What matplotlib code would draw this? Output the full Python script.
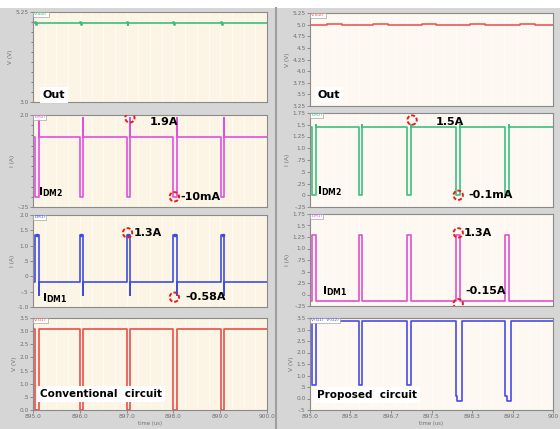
import numpy as np
import matplotlib
matplotlib.use("Agg")
import matplotlib.pyplot as plt

W, H = 560, 429

# ---------------- data ----------------
pulse_times = [895.05, 896.0, 897.0, 898.0, 899.02]

# Conventional circuit
out_left_level = 4.97
idm2_left_base, idm2_left_low, idm2_left_peak = 1.45, -0.01, 1.93
idm1_left_base, idm1_left_high, idm1_left_low = -0.2, 1.35, -0.6
vg_left_high, vg_left_low = 3.1, 0.0

# Proposed circuit
out_right_level = 5.0
idm2_right_base, idm2_right_low, idm2_right_peak = 1.45, 0.0, 1.5
idm1_right_base, idm1_right_high = -0.15, 1.3
vg_right_high = 3.35
vg_right_lows = [0.6, 0.6, 0.6, -0.1, -0.1]

left_xticks = [895.0, 896.0, 897.0, 898.0, 899.0, 900.0]
left_xlabels = ["895.0", "896.0", "897.0", "898.0", "899.0", "900.0"]
right_xticks = [895.0, 895.833, 896.667, 897.5, 898.333, 899.167, 900.0]
right_xlabels = ["895.0", "895.8", "896.7", "897.5", "898.3", "899.2", "900"]


def wave(base, segs_per_pulse):
    """segs_per_pulse: list (one per pulse) of [(duration, value), ...]"""
    t = [895.0]
    v = [base]
    for t0, segs in zip(pulse_times, segs_per_pulse):
        t += [t0]
        v += [base]
        cur = t0
        for d, val in segs:
            t += [cur, cur + d]
            v += [val, val]
            cur += d
        t += [cur]
        v += [base]
    t += [900.0]
    v += [base]
    return np.array(t), np.array(v)


n = len(pulse_times)
# ---------------- figure ----------------
fig = plt.figure(figsize=(W / 100, H / 100), dpi=100)
fig.patch.set_facecolor("#d6d6d6")
fig.add_artist(plt.Rectangle((0, 1 - 8 / H), 1, 8 / H, transform=fig.transFigure,
                             facecolor="white", edgecolor="none"))
fig.add_artist(plt.Line2D([276 / W, 276 / W], [0, 1 - 8 / H], transform=fig.transFigure,
                          color="#a0a0a0", lw=1.5))


def mkax(x0, x1, ytop, ybot, ylim, face):
    ax = fig.add_axes([x0 / W, 1 - ybot / H, (x1 - x0) / W, (ybot - ytop) / H])
    ax.set_facecolor(face)
    ax.set_xlim(895.0, 900.0)
    ax.set_ylim(*ylim)
    for s in ax.spines.values():
        s.set_color("#8a8a8a")
        s.set_linewidth(0.8)
    ax.tick_params(labelsize=4.2, colors="#707070", length=2, width=0.5, pad=1)
    ax.tick_params(axis="x", labelbottom=False, length=0)
    for xv in np.arange(895.25, 900.0, 0.25):
        ax.axvline(xv, color="white", lw=0.6, alpha=0.6, zorder=0)
    return ax


def tab(ax, text, color):
    ax.text(0.005, 0.995, text, transform=ax.transAxes, fontsize=3.2, color=color,
            va="top", ha="left",
            bbox=dict(facecolor="white", edgecolor="#909090", lw=0.4, pad=0.6))


def circ(ax, x, y):
    ax.scatter([x], [y], s=45, facecolors="none", edgecolors="#e02020", linewidths=1.4,
               linestyles=(0, (2.0, 1.0)), zorder=6)


def label(ax, x, y, s, fs=8):
    ax.text(x, y, s, fontsize=fs, fontweight="bold", color="black", va="center", ha="left",
            zorder=8)


LX0, LX1 = 33, 267
RX0, RX1 = 310, 553
lface = "#fcf5e6"
rface = "#fdf8f1"

# ---- left 1: Out
ax = mkax(LX0, LX1, 12, 102, (3.0, 5.25), lface)
t, v = wave(out_left_level, [[(0.02, out_left_level + 0.04), (0.02, out_left_level - 0.04)]] * n)
ax.plot(t, v, color="#3dbd7d", lw=1.2)
ax.set_yticks([3.0, 5.25], ["3.0", "5.25"])
ax.set_yticks(np.arange(3.25, 5.25, 0.25), minor=True)
ax.tick_params(which="minor", length=1.5, color="#707070")
ax.set_ylabel("V (V)", fontsize=4.2, color="#707070", labelpad=2)
ax.text(895.2, 3.17, "Out", fontsize=8, fontweight="bold", va="center",
        bbox=dict(facecolor="white", edgecolor="none", pad=2))
tab(ax, "V(out)", "#3dbd7d")

# ---- left 2: IDM2
ax = mkax(LX0, LX1, 115, 207, (-0.25, 2.0), lface)
t, v = wave(idm2_left_base, [[(0.07, idm2_left_low), (0.0, idm2_left_peak)]] * n)
ax.plot(t, v, color="#e14fe1", lw=1.2)
ax.set_yticks([-0.25, 2.0], ["-.25", "2.0"])
ax.set_yticks(np.arange(0.0, 2.0, 0.25), minor=True)
ax.tick_params(which="minor", length=1.5, color="#707070")
ax.set_ylabel("I (A)", fontsize=4.2, color="#707070", labelpad=2)
circ(ax, 897.07, 1.93)
label(ax, 897.5, 1.82, "1.9A")
circ(ax, 898.02, 0.0)
label(ax, 898.15, 0.0, "-10mA")
ax.text(895.1, 0.12, r"I$_{\mathregular{DM2}}$", fontsize=8, fontweight="bold", va="center")
tab(ax, "I(M2)", "#e14fe1")

# ---- left 3: IDM1
ax = mkax(LX0, LX1, 215, 307, (-1.0, 2.0), lface)
t, v = wave(idm1_left_base, [[(0.07, idm1_left_high), (0.0, idm1_left_low)]] * n)
ax.plot(t, v, color="#3c4ee0", lw=1.2)
ax.plot([p + 0.035 for p in pulse_times], [idm1_left_high] * n, "s", color="#3c4ee0", ms=2)
ax.set_yticks([-1.0, -0.5, 0.0, 0.5, 1.0, 1.5, 2.0], ["-1.0", "-.5", "0", ".5", "1.0", "1.5", "2.0"])
ax.set_ylabel("I (A)", fontsize=4.2, color="#707070", labelpad=2)
circ(ax, 897.02, 1.42)
label(ax, 897.15, 1.42, "1.3A")
circ(ax, 898.02, -0.68)
label(ax, 898.25, -0.66, "-0.58A")
ax.text(895.2, -0.72, r"I$_{\mathregular{DM1}}$", fontsize=8, fontweight="bold", va="center")
tab(ax, "I(M1)", "#3c4ee0")

# ---- left 4: gate voltage
ax = mkax(LX0, LX1, 318, 410, (0.0, 3.5), lface)
t, v = wave(vg_left_high, [[(0.07, vg_left_low)]] * n)
ax.plot(t, v, color="#e8504a", lw=1.2)
ax.set_yticks([0.0, 0.5, 1.0, 1.5, 2.0, 2.5, 3.0, 3.5],
              ["0.0", ".5", "1.0", "1.5", "2.0", "2.5", "3.0", "3.5"])
ax.set_ylabel("V (V)", fontsize=4.2, color="#707070", labelpad=2)
ax.tick_params(axis="x", labelbottom=True, length=2)
ax.set_xticks(left_xticks, left_xlabels)
ax.set_xlabel("time (us)", fontsize=3.8, color="#707070", labelpad=1)
ax.text(895.15, 0.6, "Conventional  circuit", fontsize=7.5, fontweight="bold", va="center",
        bbox=dict(facecolor="white", edgecolor="none", pad=2))
tab(ax, "V(G1)", "#e8504a")

# ---- right 1: Out
ax = mkax(RX0, RX1, 13, 106, (3.25, 5.25), rface)
t, v = wave(out_right_level, [[(0.3, out_right_level - 0.015), (0.3, out_right_level + 0.01)]] * n)
ax.plot(t, v, color="#e85a5a", lw=1.2)
ax.set_yticks(np.arange(3.25, 5.26, 0.25),
              ["3.25", "3.5", "3.75", "4.0", "4.25", "4.5", "4.75", "5.0", "5.25"])
ax.set_ylabel("V (V)", fontsize=4.2, color="#707070", labelpad=2)
ax.text(895.16, 3.49, "Out", fontsize=8, fontweight="bold", va="center",
        bbox=dict(facecolor="white", edgecolor="none", pad=2))
tab(ax, "V(out)", "#e85a5a")

# ---- right 2: IDM2
ax = mkax(RX0, RX1, 113, 207, (-0.25, 1.75), rface)
t, v = wave(idm2_right_base, [[(0.08, idm2_right_low), (0.0, idm2_right_peak)]] * n)
ax.plot(t, v, color="#3cc080", lw=1.2)
ax.set_yticks(np.arange(-0.25, 1.76, 0.25),
              ["-.25", "0", ".25", ".5", ".75", "1.0", "1.25", "1.5", "1.75"])
ax.set_ylabel("I (A)", fontsize=4.2, color="#707070", labelpad=2)
circ(ax, 897.1, 1.6)
label(ax, 897.58, 1.55, "1.5A")
circ(ax, 898.05, 0.0)
label(ax, 898.25, 0.0, "-0.1mA")
ax.text(895.15, 0.08, r"I$_{\mathregular{DM2}}$", fontsize=8, fontweight="bold", va="center")
tab(ax, "I(M2)", "#3cc080")

# ---- right 3: IDM1
ax = mkax(RX0, RX1, 214, 306, (-0.25, 1.75), rface)
t, v = wave(idm1_right_base, [[(0.08, idm1_right_high)]] * n)
ax.plot(t, v, color="#e050d0", lw=1.2)
ax.set_yticks(np.arange(-0.25, 1.76, 0.25),
              ["-.25", "0", ".25", ".5", ".75", "1.0", "1.25", "1.5", "1.75"])
ax.set_ylabel("I (A)", fontsize=4.2, color="#707070", labelpad=2)
circ(ax, 898.05, 1.34)
label(ax, 898.17, 1.34, "1.3A")
circ(ax, 898.05, -0.2)
label(ax, 898.2, 0.07, "-0.15A")
ax.text(895.25, 0.07, r"I$_{\mathregular{DM1}}$", fontsize=8, fontweight="bold", va="center")
tab(ax, "I(M1)", "#e050d0")

# ---- right 4: gate voltage
ax = mkax(RX0, RX1, 318, 410, (-0.5, 3.5), rface)
segs = [[(0.08, lo)] if lo > 0 else [(0.03, 0.1), (0.09, lo)] for lo in vg_right_lows]
t, v = wave(vg_right_high, segs)
ax.plot(t, v, color="#4a4ae8", lw=1.2)
ax.set_yticks([-0.5, 0.0, 0.5, 1.0, 1.5, 2.0, 2.5, 3.0, 3.5],
              ["-.5", "0.0", ".5", "1.0", "1.5", "2.0", "2.5", "3.0", "3.5"])
ax.set_ylabel("V (V)", fontsize=4.2, color="#707070", labelpad=2)
ax.tick_params(axis="x", labelbottom=True, length=2)
ax.set_xticks(right_xticks, right_xlabels)
ax.set_xlabel("time (us)", fontsize=3.8, color="#707070", labelpad=1)
ax.text(895.15, 0.15, "Proposed  circuit", fontsize=7.5, fontweight="bold", va="center",
        bbox=dict(facecolor="white", edgecolor="none", pad=2))
tab(ax, "V(G1)  V(G2)", "#4a4ae8")

fig.savefig("out.png", dpi=100, facecolor=fig.get_facecolor())
